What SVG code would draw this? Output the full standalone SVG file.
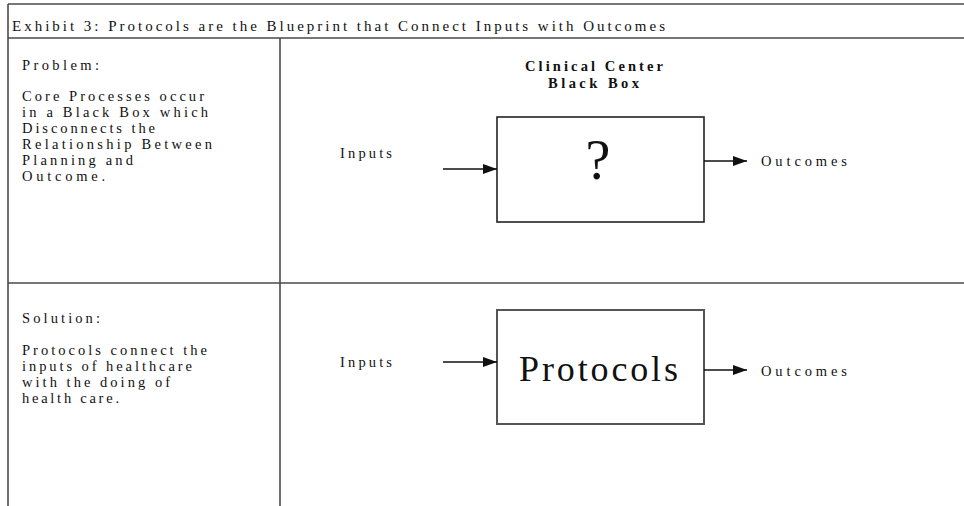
<svg xmlns="http://www.w3.org/2000/svg" width="964" height="506" viewBox="0 0 964 506">
<defs>
<style>
.t{font-family:"Liberation Serif","Times New Roman",serif;fill:#111;}
.s15{font-size:14.5px;}
.frame{stroke:#4a4a4a;stroke-width:1.6;fill:none;}
.box{fill:none;stroke:#222;stroke-width:1.6;}
.box2{fill:none;stroke:#555;stroke-width:2;}
.arr{stroke:#111;stroke-width:1.4;fill:none;marker-end:url(#ah);}
</style>
<marker id="ah" markerWidth="14" markerHeight="10" refX="14" refY="5" orient="auto" markerUnits="userSpaceOnUse">
<path d="M0,0 L14,5 L0,10 Z" fill="#111"/>
</marker>
</defs>
<rect width="964" height="506" fill="#fff"/>
<g id="frame">
<line class="frame" x1="8" y1="4" x2="964" y2="4"/>
<line class="frame" x1="8" y1="38" x2="964" y2="38"/>
<line class="frame" x1="8" y1="283" x2="964" y2="283"/>
<line class="frame" x1="8" y1="4" x2="8" y2="506"/>
<line class="frame" x1="280" y1="38" x2="280" y2="506"/>
</g>
<g id="title">
<text class="t" x="12" y="31" font-size="15" textLength="653" lengthAdjust="spacing">Exhibit 3:  Protocols are the Blueprint that Connect Inputs with Outcomes</text>
</g>
<g id="problem-text">
<text class="t s15" x="22" y="70" textLength="77" lengthAdjust="spacing">Problem:</text>
<text class="t s15" x="22" y="101" textLength="182" lengthAdjust="spacing">Core Processes occur</text>
<text class="t s15" x="22" y="117" textLength="186" lengthAdjust="spacing">in a Black Box which</text>
<text class="t s15" x="22" y="133" textLength="133" lengthAdjust="spacing">Disconnects the</text>
<text class="t s15" x="22" y="149" textLength="190" lengthAdjust="spacing">Relationship Between</text>
<text class="t s15" x="22" y="165" textLength="111" lengthAdjust="spacing">Planning and</text>
<text class="t s15" x="22" y="181" textLength="83" lengthAdjust="spacing">Outcome.</text>
</g>
<g id="solution-text">
<text class="t s15" x="22" y="323" textLength="78" lengthAdjust="spacing">Solution:</text>
<text class="t s15" x="22" y="355" textLength="185" lengthAdjust="spacing">Protocols connect the</text>
<text class="t s15" x="22" y="371" textLength="170" lengthAdjust="spacing">inputs of healthcare</text>
<text class="t s15" x="22" y="387" textLength="148" lengthAdjust="spacing">with the doing of</text>
<text class="t s15" x="22" y="403" textLength="97" lengthAdjust="spacing">health care.</text>
</g>
<g id="black-box-title">
<text class="t s15" x="525" y="71" font-weight="bold" textLength="138" lengthAdjust="spacing">Clinical Center</text>
<text class="t s15" x="548" y="88" font-weight="bold" textLength="91" lengthAdjust="spacing">Black Box</text>
</g>
<g id="inputs-top">
<text class="t s15" x="340" y="158" textLength="52" lengthAdjust="spacing">Inputs</text>
</g>
<g id="black-box">
<rect class="box" x="497" y="117" width="207" height="105"/>
<text class="t" x="598" y="179" font-size="56" text-anchor="middle">?</text>
</g>
<g id="outcomes-top">
<text class="t s15" x="761" y="166" textLength="86" lengthAdjust="spacing">Outcomes</text>
</g>
<g id="inputs-bottom">
<text class="t s15" x="340" y="367" textLength="52" lengthAdjust="spacing">Inputs</text>
</g>
<g id="protocols-box">
<rect class="box2" x="497" y="310" width="207" height="114"/>
<text class="t" x="519" y="381" font-size="36" textLength="159" lengthAdjust="spacing">Protocols</text>
</g>
<g id="outcomes-bottom">
<text class="t s15" x="761" y="376" textLength="86" lengthAdjust="spacing">Outcomes</text>
</g>
<g id="connectors">
<line class="arr" x1="443" y1="169" x2="497" y2="169"/>
<line class="arr" x1="704" y1="161" x2="747" y2="161"/>
<line class="arr" x1="443" y1="362" x2="497" y2="362"/>
<line class="arr" x1="704" y1="370" x2="747" y2="370"/>
</g>
</svg>
